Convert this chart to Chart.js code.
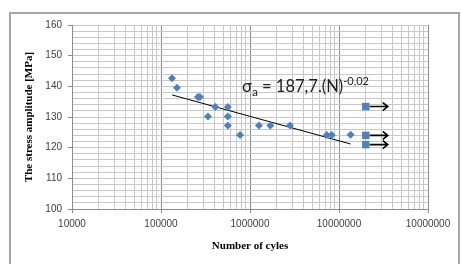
<!DOCTYPE html>
<html>
<head>
<meta charset="utf-8">
<script src="https://cdn.jsdelivr.net/npm/chart.js@4/dist/chart.umd.min.js"></script>
<style>
  html, body { margin: 0; padding: 0; background: #fff; }
  #wrap { position: relative; width: 461px; height: 264px; overflow: hidden; }
  #frame { position: absolute; left: 9px; top: 12px; width: 447px; height: 300px; border: 2px solid #a6a6a6; }
  #chart { position: absolute; left: 0; top: 0; }
  #eq { position: absolute; left: 242px; top: 74px; font-family: Lato, "Open Sans", sans-serif; font-size: 16.5px; color: #222; white-space: nowrap; }
  #eq sub { font-size: 12px; vertical-align: -4px; }
  #eq sup { font-size: 11px; vertical-align: 7px; }
</style>
</head>
<body>
<div id="wrap">
  <div id="frame"></div>
  <canvas id="chart" width="461" height="264"></canvas>
  <div id="eq">σ<sub>a</sub> = 187,7.(N)<sup>-0,02</sup></div>
</div>
<script>
// measured fatigue results (cycles to failure, stress amplitude MPa)
const cyclesN = [133000, 151000, 260000, 274000, 337000, 408000, 563000, 563000, 563000, 773000, 1260000, 1690000, 2810000, 7280000, 8280000, 13500000];
const stressS = [142.6, 139.5, 136.5, 136.5, 130.2, 133.3, 133.3, 130.2, 127.2, 124.1, 127.2, 127.2, 127.2, 124.1, 124.1, 124.2];

// run-outs (no failure)
const runoutN = [20000000, 20000000, 20000000];
const runoutS = [133.4, 124.0, 121.0];

// trend line ends as drawn
const trendN = [133000, 13500000];
const trendS = [137.2, 121.2];

// x tick labels as printed on the original (last one is a typo there)
const xTickLabels = ['10000', '100000', '1000000', '10000000', '10000000'];

const toPts = (xs, ys) => xs.map((x, i) => ({ x: x, y: ys[i] }));

const isDecade = v => Math.abs(Math.log10(v) - Math.round(Math.log10(v))) < 1e-9;

const arrowPlugin = {
  id: 'runoutArrows',
  afterDatasetsDraw(chart) {
    const meta = chart.getDatasetMeta(1);
    const ctx = chart.ctx;
    ctx.save();
    ctx.strokeStyle = '#000';
    ctx.lineWidth = 1.6;
    meta.data.forEach(p => {
      const x0 = p.x + 4, x1 = p.x + 22, y = p.y;
      ctx.beginPath();
      ctx.moveTo(x0, y);
      ctx.lineTo(x1, y);
      ctx.moveTo(x1 - 5, y - 4);
      ctx.lineTo(x1, y);
      ctx.lineTo(x1 - 5, y + 4);
      ctx.stroke();
    });
    ctx.restore();
  }
};

new Chart(document.getElementById('chart'), {
  type: 'scatter',
  data: {
    datasets: [
      {
        data: toPts(cyclesN, stressS),
        pointStyle: 'rectRot',
        pointRadius: 4,
        backgroundColor: '#4f81bd',
        borderColor: '#4f81bd',
        borderWidth: 0
      },
      {
        data: toPts(runoutN, runoutS),
        pointStyle: 'rect',
        pointRadius: 5.3,
        backgroundColor: '#4f81bd',
        borderColor: '#4f81bd',
        borderWidth: 0
      },
      {
        data: toPts(trendN, trendS),
        showLine: true,
        pointRadius: 0,
        borderColor: '#000',
        borderWidth: 1
      }
    ]
  },
  options: {
    responsive: false,
    animation: false,
    layout: { padding: { left: 19, top: 25, right: 33, bottom: 4 } },
    plugins: { legend: { display: false }, tooltip: { enabled: false } },
    scales: {
      x: {
        type: 'logarithmic',
        min: 10000,
        max: 100000000,
        afterBuildTicks: axis => {
          const t = [];
          for (let e = 4; e < 8; e++) {
            for (let m = 1; m < 10; m++) t.push({ value: m * Math.pow(10, e) });
          }
          t.push({ value: 1e8 });
          axis.ticks = t;
        },
        afterFit: axis => { axis.height = 51; },
        ticks: {
          autoSkip: false,
          maxRotation: 0,
          padding: 5,
          color: '#404040',
          font: { family: 'Liberation Sans', size: 10 },
          callback: function (v) {
            if (!isDecade(v)) return '';
            return xTickLabels[Math.round(Math.log10(v)) - 4];
          }
        },
        grid: {
          color: c => (c.tick && isDecade(c.tick.value)) ? '#8c8c8c' : '#c8c8c8',
          tickColor: c => (c.tick && isDecade(c.tick.value)) ? '#8c8c8c' : 'rgba(0,0,0,0)',
          tickLength: 4,
          lineWidth: 1
        },
        border: { color: '#8c8c8c' },
        title: {
          display: true,
          text: 'Number of cyles',
          color: '#000',
          font: { family: 'Liberation Serif', size: 11, weight: 'bold' },
          padding: { top: 0, bottom: 7 }
        }
      },
      y: {
        min: 100,
        max: 160,
        afterFit: axis => { axis.width = 53; },
        ticks: {
          stepSize: 2,
          autoSkip: false,
          padding: 6,
          color: '#404040',
          font: { family: 'Liberation Sans', size: 10 },
          callback: v => (v % 10 === 0 ? String(v) : '')
        },
        grid: {
          color: '#c8c8c8',
          tickColor: c => (c.tick && c.tick.value % 10 === 0) ? '#8c8c8c' : 'rgba(0,0,0,0)',
          tickLength: 4,
          lineWidth: 1
        },
        border: { color: '#8c8c8c' },
        title: {
          display: true,
          text: 'The stress amplitude [MPa]',
          color: '#000',
          font: { family: 'Liberation Serif', size: 11, weight: 'bold' },
          padding: { top: 4, bottom: 4 }
        }
      }
    }
  },
  plugins: [arrowPlugin]
});
</script>
</body>
</html>
